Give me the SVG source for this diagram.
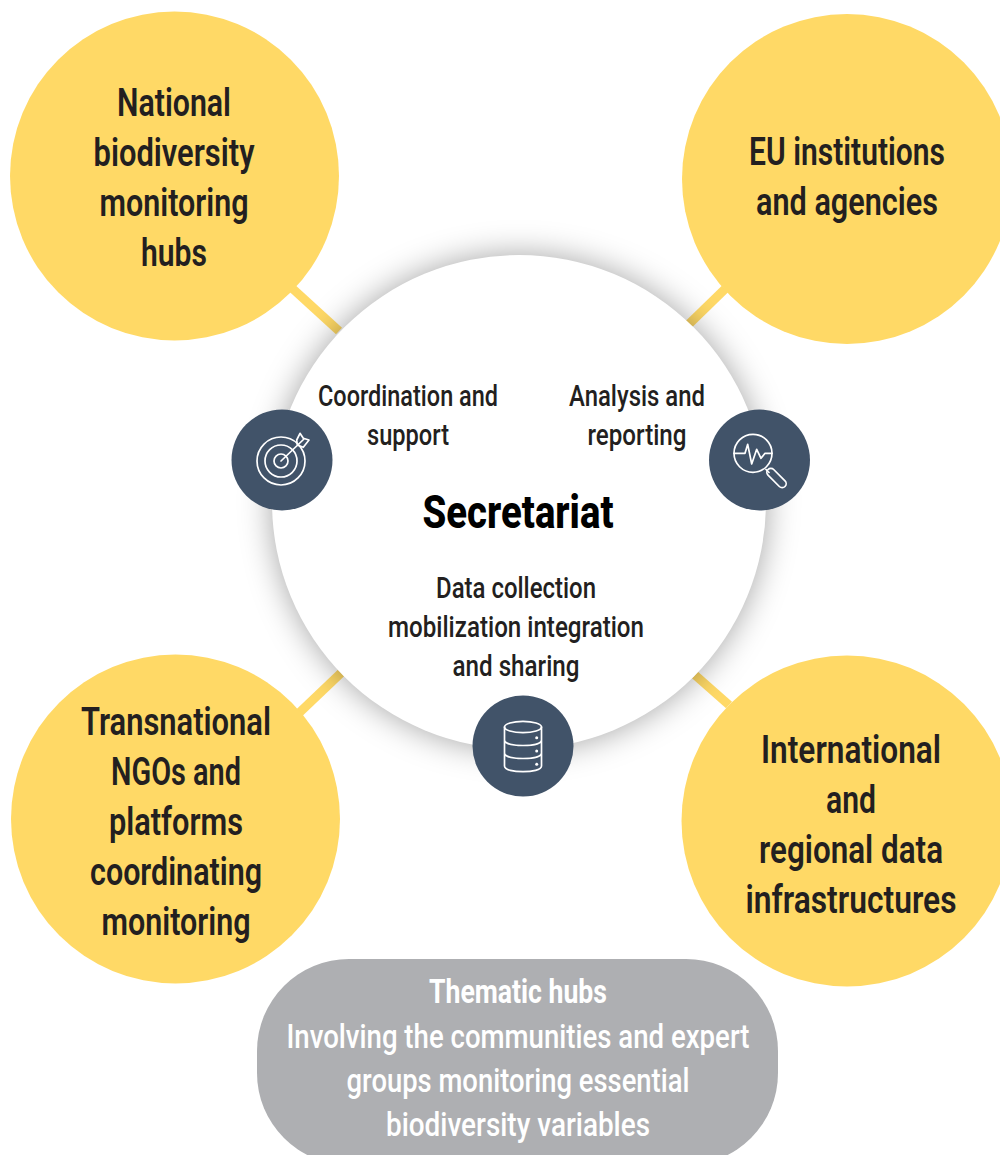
<svg xmlns="http://www.w3.org/2000/svg" width="1000" height="1155" viewBox="0 0 1000 1155">
<style>
text{font-family:"Roboto","Liberation Sans",sans-serif;text-anchor:middle}
.y{fill:#ffd966}
.big{font-size:38px;font-weight:600;fill:#231f20}
.mid{font-size:29px;font-weight:500;fill:#231f20}
.w{font-size:33px;font-weight:500;fill:#fff}
.wb{font-size:33px;font-weight:700;fill:#fff}
.dark{fill:#415369}
.ic{fill:none;stroke:#fff;stroke-width:1.7;stroke-linecap:round;stroke-linejoin:round}
.ln{stroke:#ffd966;stroke-width:9;fill:none}
</style>
<defs>
<filter id="sh" x="-25%" y="-25%" width="150%" height="150%"><feGaussianBlur stdDeviation="16"/></filter>
</defs>
<rect width="1000" height="1155" fill="#fff"/>
<g id="connectors">
<line class="ln" x1="293" y1="289" x2="339" y2="331"/>
<line class="ln" x1="725" y1="289" x2="689" y2="324"/>
<line class="ln" x1="341" y1="673" x2="299" y2="713"/>
<line class="ln" x1="695" y1="675" x2="729" y2="705"/>
</g>
<g id="secretariat">
<circle cx="519" cy="502" r="247" fill="#000" fill-opacity=".36" filter="url(#sh)"/>
<circle cx="519" cy="502" r="247" fill="#fff"/>
<text x="518" y="528" font-size="47" font-weight="800" fill="#000" textLength="191" lengthAdjust="spacingAndGlyphs">Secretariat</text>
</g>
<g id="national">
<circle class="y" cx="174.500" cy="176" r="164.500"/>
<text class="big" x="174" y="116" textLength="114" lengthAdjust="spacingAndGlyphs">National</text>
<text class="big" x="174" y="166" textLength="161" lengthAdjust="spacingAndGlyphs">biodiversity</text>
<text class="big" x="174" y="216" textLength="149" lengthAdjust="spacingAndGlyphs">monitoring</text>
<text class="big" x="174" y="266" textLength="66" lengthAdjust="spacingAndGlyphs">hubs</text>
</g>
<g id="eu">
<circle class="y" cx="847" cy="179" r="165"/>
<text class="big" x="847" y="165" textLength="196" lengthAdjust="spacingAndGlyphs">EU institutions</text>
<text class="big" x="847" y="215" textLength="182" lengthAdjust="spacingAndGlyphs">and agencies</text>
</g>
<g id="ngos">
<circle class="y" cx="175.500" cy="819" r="164.500"/>
<text class="big" x="176" y="735" textLength="190" lengthAdjust="spacingAndGlyphs">Transnational</text>
<text class="big" x="176" y="785" textLength="130" lengthAdjust="spacingAndGlyphs">NGOs and</text>
<text class="big" x="176" y="835" textLength="134" lengthAdjust="spacingAndGlyphs">platforms</text>
<text class="big" x="176" y="885" textLength="172" lengthAdjust="spacingAndGlyphs">coordinating</text>
<text class="big" x="176" y="935" textLength="149" lengthAdjust="spacingAndGlyphs">monitoring</text>
</g>
<g id="international">
<circle class="y" cx="847" cy="821" r="165.500"/>
<text class="big" x="851" y="763" textLength="180" lengthAdjust="spacingAndGlyphs">International</text>
<text class="big" x="851" y="813" textLength="50" lengthAdjust="spacingAndGlyphs">and</text>
<text class="big" x="851" y="863" textLength="184" lengthAdjust="spacingAndGlyphs">regional data</text>
<text class="big" x="851" y="913" textLength="211" lengthAdjust="spacingAndGlyphs">infrastructures</text>
</g>
<g id="coordination">
<text class="mid" x="408" y="406" textLength="180" lengthAdjust="spacingAndGlyphs">Coordination and</text>
<text class="mid" x="408" y="445" textLength="82" lengthAdjust="spacingAndGlyphs">support</text>
<circle class="dark" cx="282" cy="460" r="50.500"/>
<g class="ic">
<circle cx="281" cy="461" r="24"/>
<circle cx="281" cy="461" r="16"/>
<circle cx="281" cy="461" r="7"/>
<path d="M281 461L304 439M296.700 440L300 433.300L303.300 438.300L309 440L303.300 447.300L297.300 445Z"/>
</g>
</g>
<g id="analysis">
<text class="mid" x="637" y="406" textLength="136" lengthAdjust="spacingAndGlyphs">Analysis and</text>
<text class="mid" x="637" y="445" textLength="99" lengthAdjust="spacingAndGlyphs">reporting</text>
<circle class="dark" cx="759.500" cy="460" r="50.500"/>
<g class="ic">
<circle cx="753" cy="453.300" r="19"/>
<path d="M734 453.300H745L747.700 444.300L751.700 464L756.700 449.300L761 458.300L765 453.300H772M766 469.500L769 472.500"/>
<rect x="-4" y="-12" width="8" height="24" rx="4" transform="translate(776.500 478) rotate(-45)"/>
</g>
</g>
<g id="data">
<text class="mid" x="516" y="598" textLength="160" lengthAdjust="spacingAndGlyphs">Data collection</text>
<text class="mid" x="516" y="637" textLength="256" lengthAdjust="spacingAndGlyphs">mobilization integration</text>
<text class="mid" x="516" y="676" textLength="127" lengthAdjust="spacingAndGlyphs">and sharing</text>
<circle class="dark" cx="523" cy="746" r="50.500"/>
<g class="ic">
<ellipse cx="523" cy="727" rx="18.500" ry="5.700"/>
<path d="M504.500 727V766C504.500 770 514 771.700 523 771.700S541.500 770 541.500 766V727M504.500 740C504.500 744 514 745.500 523 745.500S541.500 744 541.500 740M504.500 753C504.500 757 514 758.500 523 758.500S541.500 757 541.500 753"/>
</g>
<g fill="#fff"><circle cx="536.700" cy="737.700" r="1.500"/><circle cx="536.700" cy="751" r="1.500"/><circle cx="536.700" cy="764.300" r="1.500"/></g>
</g>
<g id="thematic">
<rect x="257" y="959" width="521" height="206" rx="92" fill="#aeafb2"/>
<text class="wb" x="518" y="1003" textLength="178" lengthAdjust="spacingAndGlyphs">Thematic hubs</text>
<text class="w" x="518" y="1048" textLength="463" lengthAdjust="spacingAndGlyphs">Involving the communities and expert</text>
<text class="w" x="518" y="1092" textLength="343" lengthAdjust="spacingAndGlyphs">groups monitoring essential</text>
<text class="w" x="518" y="1136" textLength="264" lengthAdjust="spacingAndGlyphs">biodiversity variables</text>
</g>
</svg>
